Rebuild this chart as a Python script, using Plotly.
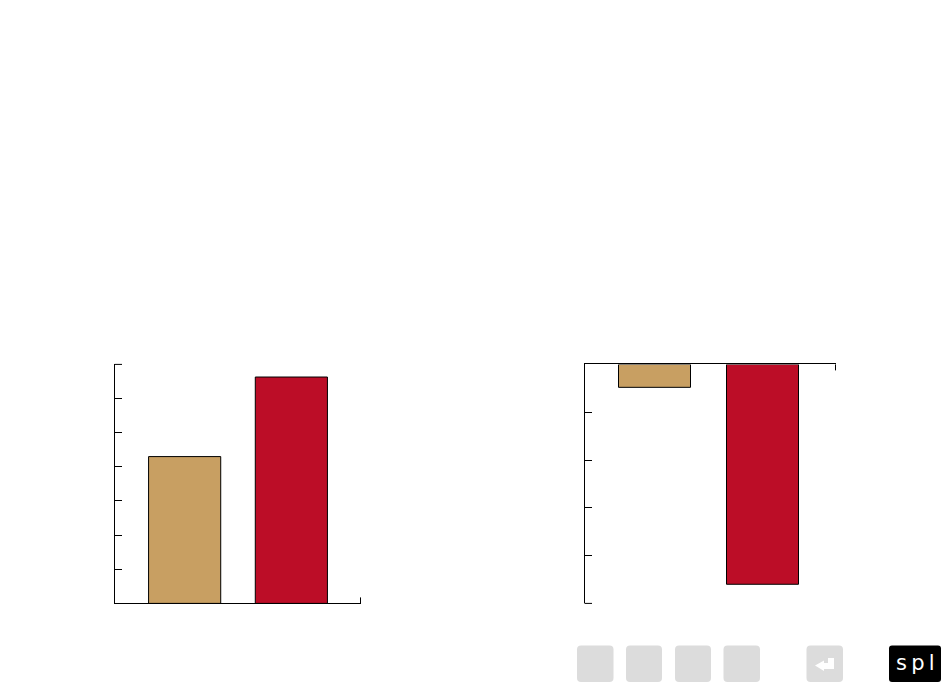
import plotly.graph_objects as go

W, H = 950, 686

# Data
categories = ["A", "B"]
left_values = [4.3, 6.63]
right_values = [-0.48, -4.6]
bar_colors = ["#c89f62", "#bc0d27"]
left_yticks = [1, 2, 3, 4, 5, 6]
right_yticks = [-1, -2, -3, -4]
left_positions = [0, 1]
right_positions = [0, 1]

# Layout helpers (pixel -> paper)
def px(x):
    return x / W
def py(y):
    return 1 - y / H

fig = go.Figure()
fig.add_trace(go.Bar(x=left_positions, y=left_values, width=72 / 106.5,
                     marker=dict(color=bar_colors, line=dict(color="#000", width=1)),
                     xaxis="x", yaxis="y", showlegend=False))
fig.add_trace(go.Bar(x=right_positions, y=right_values, width=72 / 108,
                     marker=dict(color=bar_colors, line=dict(color="#000", width=1)),
                     xaxis="x2", yaxis="y2", showlegend=False))

axis_common = dict(showgrid=False, zeroline=False, showline=True, linecolor="#000", linewidth=1,
                   ticks="inside", tickcolor="#000", tickwidth=1, showticklabels=False, fixedrange=True)

lx0, lx1 = 114.5, 360.5
rx0, rx1 = 584.5, 835.5
ytop, ybot = 364.4, 603.4

l_range = [-(184.5 - lx0) / 106.5, 1 + (lx1 - 291.5) / 106.5]
r_range = [-(654.5 - rx0) / 108, 1 + (rx1 - 762.5) / 108]

fig.update_layout(
    width=W, height=H, margin=dict(l=0, r=0, t=0, b=0), autosize=False,
    paper_bgcolor="#fff", plot_bgcolor="#fff", barmode="overlay",
    xaxis=dict(axis_common, domain=[px(lx0), px(lx1)], range=l_range, anchor="y",
               side="bottom", tickmode="array", tickvals=[], ticklen=6),
    yaxis=dict(axis_common, domain=[py(ybot), py(ytop)], range=[0, 7], anchor="x",
               side="left", tickmode="array", tickvals=left_yticks, ticklen=7),
    xaxis2=dict(axis_common, domain=[px(rx0), px(rx1)], range=r_range, anchor="y2",
                side="top", tickmode="array", tickvals=[], ticklen=6),
    yaxis2=dict(axis_common, domain=[py(ybot), py(ytop)], range=[-5, 0], anchor="x2",
                side="left", tickmode="array", tickvals=right_yticks, ticklen=7),
)

def tick(x0, y0, x1, y1):
    fig.add_shape(type="line", xref="paper", yref="paper", x0=px(x0), y0=py(y0), x1=px(x1), y1=py(y1),
                  line=dict(color="#000", width=1), layer="above")

# End ticks that plotly drops at the very ends of an axis
tick(lx0, ytop, lx0 + 7.5, ytop)
tick(lx1, ybot, lx1, ybot - 6)
tick(rx0, ybot, rx0 + 7.5, ybot)
tick(rx1, ytop, rx1, ytop + 6)

def rrect(x0, y0, x1, y1, r, fill):
    p = (f"M {px(x0+r)} {py(y0)} L {px(x1-r)} {py(y0)} Q {px(x1)} {py(y0)} {px(x1)} {py(y0+r)} "
         f"L {px(x1)} {py(y1-r)} Q {px(x1)} {py(y1)} {px(x1-r)} {py(y1)} "
         f"L {px(x0+r)} {py(y1)} Q {px(x0)} {py(y1)} {px(x0)} {py(y1-r)} "
         f"L {px(x0)} {py(y0+r)} Q {px(x0)} {py(y0)} {px(x0+r)} {py(y0)} Z")
    fig.add_shape(type="path", path=p, xref="paper", yref="paper", fillcolor=fill, line_width=0, layer="below")

for x0, x1 in [(577, 613.5), (626, 662), (675, 711), (723.5, 760), (806.5, 843)]:
    rrect(x0, 645.5, x1, 682, 4, "#dcdcdc")
rrect(889, 645.5, 941, 682, 3, "#000000")

# return arrow
arrow = [(834, 658), (834, 669), (824, 669), (824, 671), (815, 665.5), (824, 660.5), (824, 663), (828, 663), (828, 658)]
fig.add_shape(type="path", xref="paper", yref="paper", fillcolor="#ffffff", line_width=0, layer="above",
              path="M " + " L ".join(f"{px(a)} {py(b)}" for a, b in arrow) + " Z")

fig.add_annotation(text="s\u2009p\u2009l", x=px(915.5), y=py(663), xref="paper", yref="paper", showarrow=False,
                   xanchor="center", yanchor="middle",
                   font=dict(family="DejaVu Sans", size=21, color="#ffffff"))

fig.write_html("out.html", config={"displayModeBar": False}, post_script="document.body.style.margin='0';")
